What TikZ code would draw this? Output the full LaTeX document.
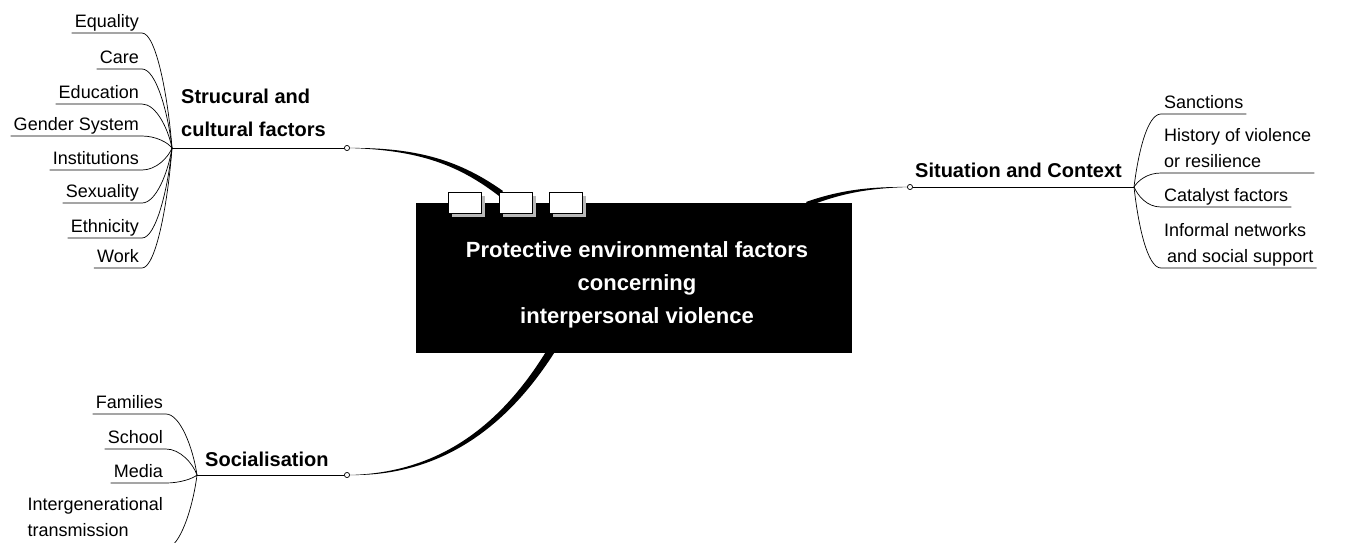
\documentclass[tikz,border=0pt]{standalone}
\usepackage{fontspec}
\setmainfont{Liberation Sans}
\usetikzlibrary{calc}

\tikzset{
    leaf/.style={font=\fontsize{18}{26}\selectfont, align=left, inner xsep=3pt, inner ysep=1pt, text depth=4pt},
    topic/.style={font=\bfseries\fontsize{20}{33}\selectfont, align=left, inner sep=0pt},
    twig/.style={line width=0.7pt},
    knot/.style={circle, draw, fill=white, inner sep=0pt, minimum size=5pt, line width=0.6pt},
    core/.style={fill=black, inner sep=0pt, minimum width=436pt, minimum height=150pt},
}

\begin{document}
\begin{tikzpicture}[x=1pt, y=-1pt]
        \useasboundingbox (0,0) rectangle (1367,542);

        % hubs and knots
        \coordinate (h1) at (172,148);
        \coordinate (h2) at (1134,187);
        \coordinate (h3) at (197,475);
        \node[knot] (k1) at (347,148) {};
        \node[knot] (k2) at (910,187) {};
        \node[knot] (k3) at (347,475) {};

        % thick stems to the central box
        \fill (k1.center) .. controls (420,147) and (462,162) .. (503,191)
            -- (499,196) .. controls (460,166) and (420,149.5) .. (k1.center);
        \fill (k2.center) .. controls (870,186.5) and (840,190) .. (806,202)
            -- (809,206) .. controls (842,193) and (870,188) .. (k2.center);
        \fill (k3.center) .. controls (432,474) and (497,432) .. (547,350)
            -- (556,350) .. controls (502,436) and (432,477) .. (k3.center);

        \draw[twig] (h1) -- (k1);
        \draw[twig] (h2) -- (k2);
        \draw[twig] (h3) -- (k3);
        \node[knot] at (k1) {};
        \node[knot] at (k2) {};
        \node[knot] at (k3) {};

        % central box
        \node[core] (core) at (634,278) {};
        \node[font=\bfseries\fontsize{22}{33}\selectfont, text=white, align=center] (title) at (637,285)
            {Protective environmental factors\\concerning\\interpersonal violence};
        \foreach \x in {448,499,549} {
            \fill[gray!55] (\x+4,196) rectangle (\x+37,217);
            \draw[fill=white, line width=0.8pt] (\x,192) rectangle (\x+33,213);
        }

        % topics
        \node[topic, anchor=north west] (struc) at (181,89) {Strucural and\\cultural factors};
        \node[topic, anchor=base west] (sit) at (915,177) {Situation and Context};
        \node[topic, anchor=base west] (soc) at (205,466) {Socialisation};

        % left leaves
        \foreach \name/\txt/\y in {eq/Equality/33, care/Care/69, edu/Education/104, gen/Gender System/136,
                inst/Institutions/170, sex/Sexuality/203, eth/Ethnicity/238, work/Work/268} {
            \node[leaf, anchor=south east] (\name) at (142,\y) {\txt};
            \draw[twig] (\name.south west) -- (\name.south east)
                .. controls +(14,0) and +(-4,{(\y-148)*0.45}) .. (h1);
        }

        % right leaves
        \foreach \name/\txt/\y in {san/Sanctions/114, hist/{History of violence\\or resilience}/173,
                cat/Catalyst factors/207, inf/{Informal networks\\\hspace{3pt}and social support}/268} {
            \node[leaf, anchor=south west] (\name) at (1161,\y) {\txt};
            \draw[twig] (h2) .. controls +(4,{(\y-187)*0.45}) and +(-14,0) .. (\name.south west)
                -- (\name.south east);
        }

        % bottom leaves
        \foreach \name/\txt/\y in {fam/Families/414, sch/School/449, med/Media/483} {
            \node[leaf, anchor=south east] (\name) at (166,\y) {\txt};
            \draw[twig] (\name.south west) -- (\name.south east)
                .. controls +(14,0) and +(-4,{(\y-475)*0.45}) .. (h3);
        }
        \node[leaf, anchor=south east, text depth=10pt] (inter) at (166,548) {Intergenerational\\transmission};
        \draw[twig] (inter.south west) -- (inter.south east)
            .. controls +(14,0) and +(-4,32) .. (h3);
    \end{tikzpicture}
\end{document}
